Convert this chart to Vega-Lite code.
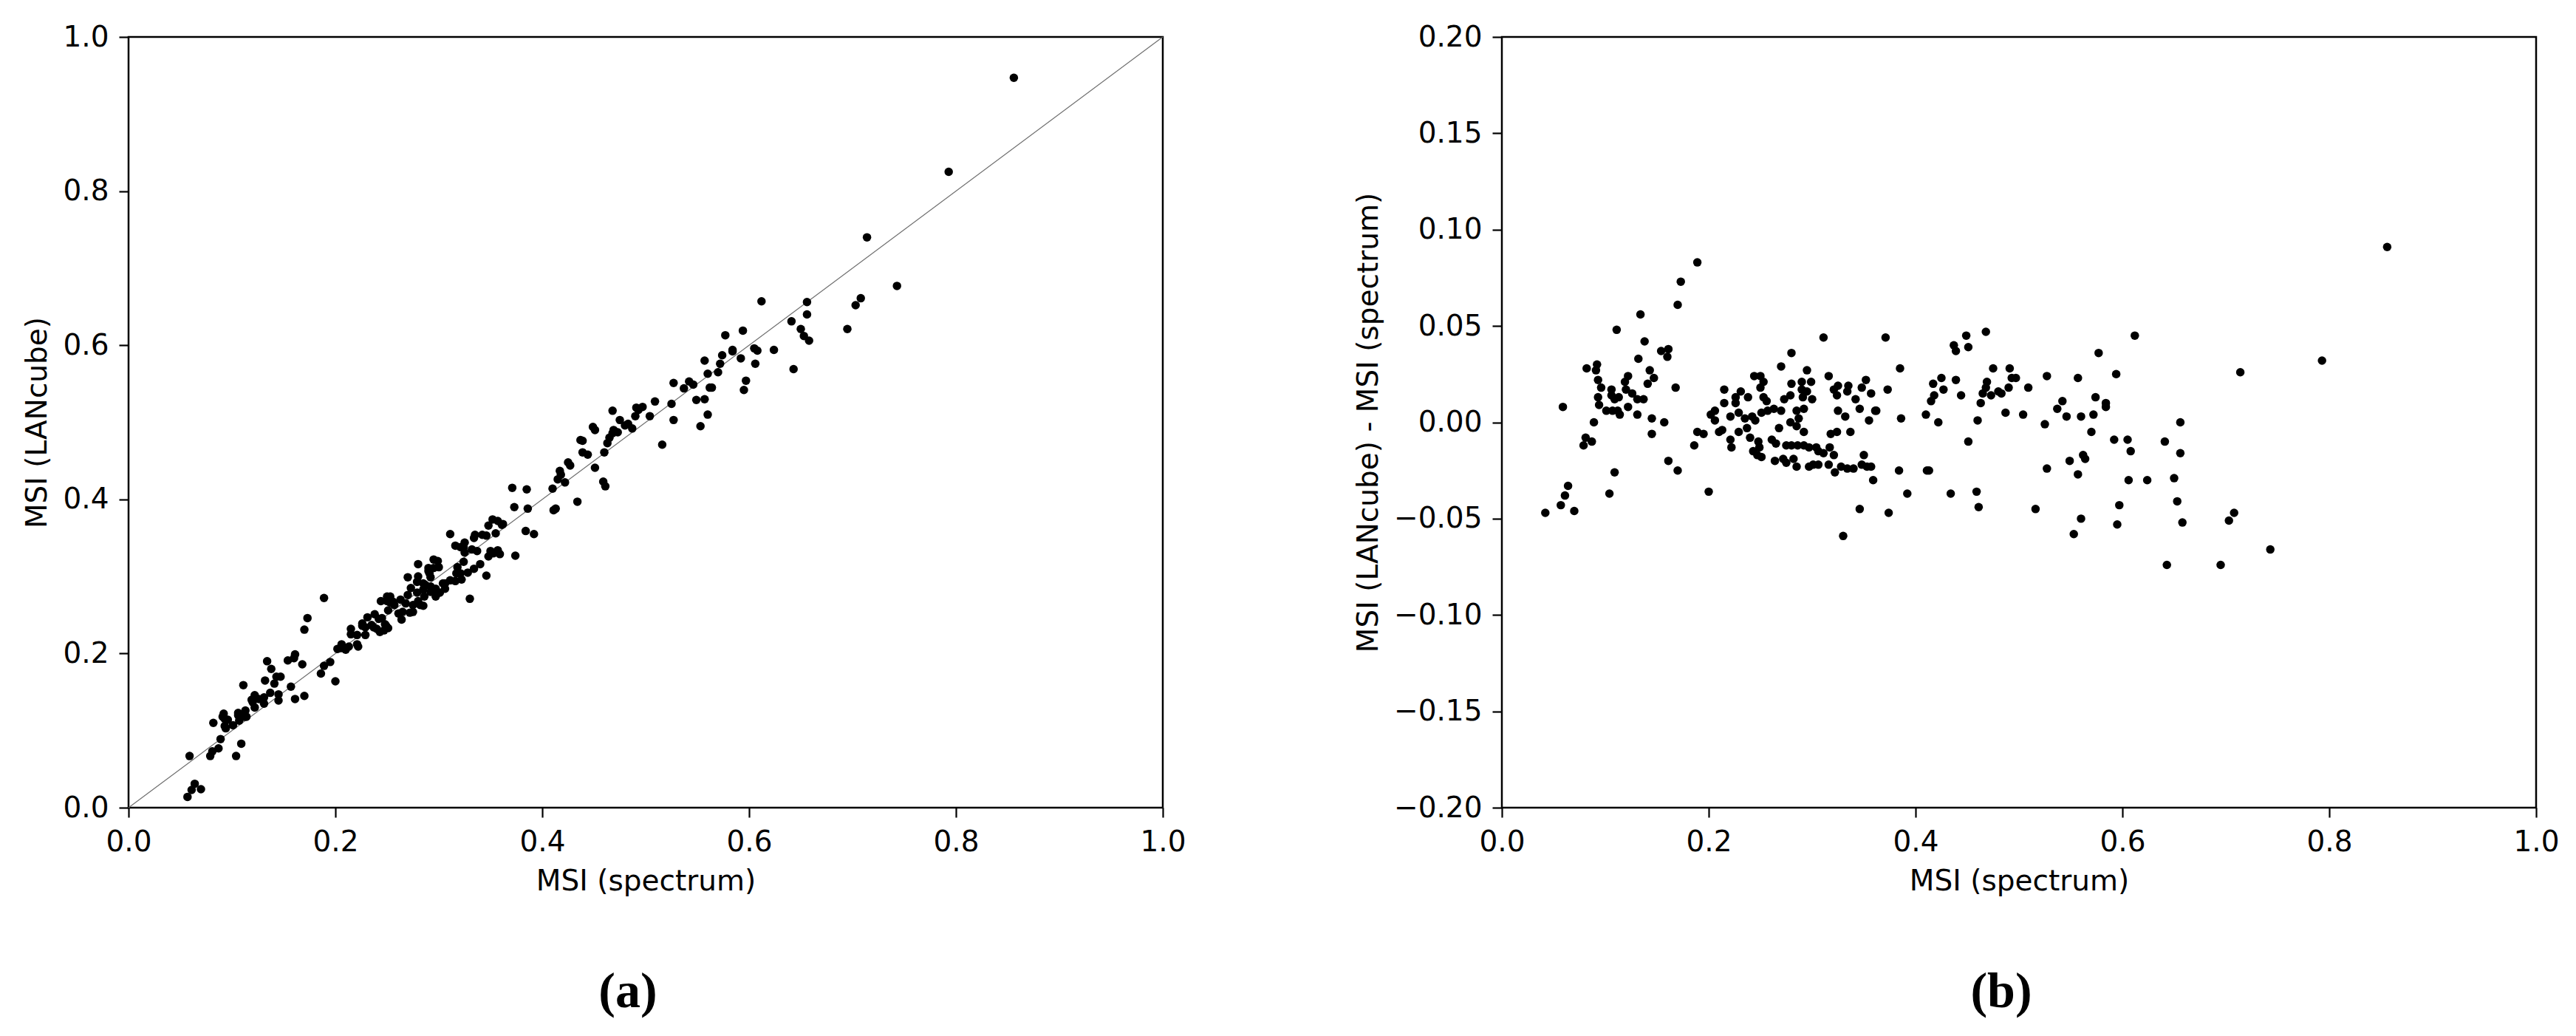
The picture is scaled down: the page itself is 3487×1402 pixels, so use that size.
{
  "$schema": "https://vega.github.io/schema/vega-lite/v6.json",
  "background": "white",
  "padding": {"left": 30, "top": 29, "right": 5, "bottom": 5},
  "spacing": 459,
  "bounds": "flush",
  "config": {
    "view": {"stroke": "black", "strokeWidth": 2.5},
    "axis": {
      "grid": false, "domain": false, "labelFlush": false,
      "tickColor": "black", "tickWidth": 2.2, "tickSize": 13,
      "labelFont": "DejaVu Sans", "labelFontSize": 39, "labelColor": "black", "labelPadding": 14,
      "titleFont": "DejaVu Sans", "titleFontSize": 39, "titleFontWeight": "normal", "titleColor": "black"
    }
  },
  "datasets": {
    "pts": [
      {"s":0.189,"d":0.083,"l":0.272},{"s":0.173,"d":0.073,"l":0.246},{"s":0.170,"d":0.061,"l":0.231},{"s":0.134,"d":0.056,"l":0.190},
      {"s":0.111,"d":0.048,"l":0.159},{"s":0.138,"d":0.042,"l":0.180},{"s":0.154,"d":0.037,"l":0.191},{"s":0.161,"d":0.038,"l":0.199},
      {"s":0.160,"d":0.034,"l":0.194},{"s":0.132,"d":0.033,"l":0.165},{"s":0.082,"d":0.028,"l":0.110},{"s":0.092,"d":0.030,"l":0.122},
      {"s":0.091,"d":0.027,"l":0.118},{"s":0.093,"d":0.022,"l":0.115},{"s":0.096,"d":0.018,"l":0.114},{"s":0.093,"d":0.013,"l":0.106},
      {"s":0.094,"d":0.009,"l":0.103},{"s":0.101,"d":0.006,"l":0.107},{"s":0.107,"d":0.006,"l":0.113},{"s":0.112,"d":0.006,"l":0.118},
      {"s":0.114,"d":0.004,"l":0.118},{"s":0.106,"d":0.017,"l":0.123},{"s":0.106,"d":0.014,"l":0.120},{"s":0.109,"d":0.012,"l":0.121},
      {"s":0.113,"d":0.013,"l":0.126},{"s":0.119,"d":0.021,"l":0.140},{"s":0.122,"d":0.024,"l":0.146},{"s":0.120,"d":0.017,"l":0.137},
      {"s":0.126,"d":0.015,"l":0.141},{"s":0.131,"d":0.012,"l":0.143},{"s":0.137,"d":0.012,"l":0.149},{"s":0.122,"d":0.008,"l":0.130},
      {"s":0.131,"d":0.004,"l":0.135},{"s":0.143,"d":0.027,"l":0.170},{"s":0.147,"d":0.023,"l":0.170},{"s":0.141,"d":0.020,"l":0.161},
      {"s":0.168,"d":0.018,"l":0.186},{"s":0.059,"d":0.008,"l":0.067},{"s":0.089,"d":0.000,"l":0.089},{"s":0.145,"d":0.002,"l":0.147},
      {"s":0.157,"d":0.000,"l":0.157},{"s":0.145,"d":-0.006,"l":0.139},{"s":0.081,"d":-0.008,"l":0.073},{"s":0.079,"d":-0.012,"l":0.067},
      {"s":0.087,"d":-0.010,"l":0.077},{"s":0.109,"d":-0.026,"l":0.083},{"s":0.104,"d":-0.037,"l":0.067},{"s":0.064,"d":-0.033,"l":0.031},
      {"s":0.061,"d":-0.038,"l":0.023},{"s":0.057,"d":-0.043,"l":0.014},{"s":0.042,"d":-0.047,"l":-0.005},{"s":0.070,"d":-0.046,"l":0.024},
      {"s":0.161,"d":-0.020,"l":0.141},{"s":0.170,"d":-0.025,"l":0.145},{"s":0.200,"d":-0.036,"l":0.164},{"s":0.186,"d":-0.012,"l":0.174},
      {"s":0.189,"d":-0.005,"l":0.184},{"s":0.195,"d":-0.006,"l":0.189},{"s":0.202,"d":0.004,"l":0.206},{"s":0.206,"d":0.006,"l":0.212},
      {"s":0.206,"d":0.001,"l":0.207},{"s":0.210,"d":-0.005,"l":0.205},
      {"s":0.213,"d":-0.004,"l":0.209},{"s":0.215,"d":0.017,"l":0.232},{"s":0.215,"d":0.010,"l":0.225},{"s":0.221,"d":0.003,"l":0.224},
      {"s":0.221,"d":-0.009,"l":0.212},{"s":0.222,"d":-0.013,"l":0.209},{"s":0.226,"d":0.013,"l":0.239},{"s":0.226,"d":0.010,"l":0.236},
      {"s":0.231,"d":0.016,"l":0.247},{"s":0.229,"d":0.005,"l":0.234},{"s":0.229,"d":-0.005,"l":0.224},{"s":0.235,"d":0.002,"l":0.237},
      {"s":0.237,"d":-0.003,"l":0.234},{"s":0.238,"d":0.013,"l":0.251},{"s":0.240,"d":-0.008,"l":0.232},{"s":0.244,"d":0.024,"l":0.268},
      {"s":0.242,"d":0.003,"l":0.245},{"s":0.243,"d":-0.015,"l":0.228},{"s":0.245,"d":0.001,"l":0.246},{"s":0.248,"d":-0.010,"l":0.238},
      {"s":0.249,"d":-0.013,"l":0.236},{"s":0.250,"d":0.024,"l":0.274},{"s":0.253,"d":0.021,"l":0.274},{"s":0.250,"d":0.018,"l":0.268},
      {"s":0.251,"d":-0.018,"l":0.233},{"s":0.247,"d":-0.017,"l":0.230},{"s":0.253,"d":0.013,"l":0.266},{"s":0.256,"d":0.011,"l":0.267},
      {"s":0.251,"d":0.005,"l":0.256},{"s":0.257,"d":0.006,"l":0.263},{"s":0.261,"d":-0.009,"l":0.252},{"s":0.265,"d":-0.011,"l":0.254},
      {"s":0.263,"d":0.007,"l":0.270},{"s":0.264,"d":-0.020,"l":0.244},{"s":0.268,"d":-0.003,"l":0.265},{"s":0.270,"d":0.029,"l":0.299},
      {"s":0.270,"d":0.006,"l":0.276},{"s":0.272,"d":-0.019,"l":0.253},{"s":0.275,"d":-0.021,"l":0.254},{"s":0.273,"d":0.012,"l":0.285},
      {"s":0.275,"d":-0.012,"l":0.263},{"s":0.279,"d":0.014,"l":0.293},{"s":0.279,"d":0.000,"l":0.279},{"s":0.280,"d":0.036,"l":0.316},
      {"s":0.280,"d":0.020,"l":0.300},{"s":0.280,"d":-0.012,"l":0.268},{"s":0.282,"d":-0.019,"l":0.263},{"s":0.285,"d":0.006,"l":0.291},
      {"s":0.285,"d":-0.002,"l":0.283},{"s":0.285,"d":-0.023,"l":0.262},{"s":0.286,"d":-0.012,"l":0.274},{"s":0.287,"d":0.002,"l":0.289},
      {"s":0.290,"d":0.021,"l":0.311},{"s":0.290,"d":0.017,"l":0.307},{"s":0.291,"d":0.013,"l":0.304},{"s":0.292,"d":0.007,"l":0.299},
      {"s":0.292,"d":-0.005,"l":0.287},{"s":0.292,"d":-0.012,"l":0.280},{"s":0.295,"d":0.027,"l":0.322},{"s":0.295,"d":0.016,"l":0.311},
      {"s":0.297,"d":-0.023,"l":0.274},{"s":0.299,"d":0.021,"l":0.320},{"s":0.300,"d":0.012,"l":0.312},{"s":0.297,"d":-0.013,"l":0.284},
      {"s":0.301,"d":-0.022,"l":0.279},{"s":0.304,"d":-0.013,"l":0.291},{"s":0.306,"d":-0.022,"l":0.284},{"s":0.306,"d":-0.015,"l":0.291},
      {"s":0.311,"d":0.044,"l":0.355},{"s":0.311,"d":-0.016,"l":0.295},{"s":0.316,"d":0.024,"l":0.340},{"s":0.317,"d":-0.013,"l":0.304},
      {"s":0.318,"d":-0.006,"l":0.312},{"s":0.316,"d":-0.022,"l":0.294},{"s":0.321,"d":0.017,"l":0.338},{"s":0.321,"d":-0.017,"l":0.304},
      {"s":0.322,"d":-0.026,"l":0.296},{"s":0.324,"d":-0.005,"l":0.319},{"s":0.325,"d":0.019,"l":0.344},{"s":0.324,"d":0.014,"l":0.338},
      {"s":0.325,"d":0.006,"l":0.331},{"s":0.328,"d":-0.023,"l":0.305},{"s":0.330,"d":-0.059,"l":0.271},{"s":0.332,"d":0.003,"l":0.335},
      {"s":0.334,"d":-0.024,"l":0.310},{"s":0.335,"d":0.019,"l":0.354},{"s":0.334,"d":0.016,"l":0.350},{"s":0.337,"d":-0.005,"l":0.333},
      {"s":0.340,"d":-0.024,"l":0.316},{"s":0.342,"d":0.012,"l":0.354},{"s":0.346,"d":0.007,"l":0.353},{"s":0.346,"d":-0.045,"l":0.301},
      {"s":0.348,"d":0.018,"l":0.366},{"s":0.348,"d":-0.022,"l":0.326},{"s":0.350,"d":-0.017,"l":0.333},{"s":0.352,"d":0.022,"l":0.374},
      {"s":0.353,"d":-0.023,"l":0.330},{"s":0.357,"d":0.015,"l":0.372},{"s":0.357,"d":-0.023,"l":0.334},{"s":0.355,"d":0.001,"l":0.356},
      {"s":0.359,"d":-0.030,"l":0.329},{"s":0.361,"d":0.006,"l":0.367},{"s":0.362,"d":0.006,"l":0.368},{"s":0.371,"d":0.044,"l":0.415},
      {"s":0.373,"d":0.017,"l":0.390},{"s":0.374,"d":-0.047,"l":0.327},{"s":0.384,"d":-0.025,"l":0.359},{"s":0.385,"d":0.028,"l":0.413},
      {"s":0.386,"d":0.002,"l":0.388},
      {"s":0.392,"d":-0.037,"l":0.355},{"s":0.410,"d":0.004,"l":0.414},{"s":0.415,"d":0.011,"l":0.426},{"s":0.418,"d":0.014,"l":0.432},
      {"s":0.417,"d":0.020,"l":0.437},{"s":0.425,"d":0.023,"l":0.448},{"s":0.427,"d":0.017,"l":0.444},{"s":0.422,"d":0.000,"l":0.422},
      {"s":0.411,"d":-0.025,"l":0.386},{"s":0.413,"d":-0.025,"l":0.388},{"s":0.434,"d":-0.037,"l":0.397},{"s":0.437,"d":0.040,"l":0.477},
      {"s":0.439,"d":0.037,"l":0.476},{"s":0.439,"d":0.022,"l":0.461},{"s":0.444,"d":0.014,"l":0.458},{"s":0.449,"d":0.045,"l":0.494},
      {"s":0.451,"d":0.039,"l":0.490},{"s":0.451,"d":-0.010,"l":0.441},{"s":0.459,"d":-0.036,"l":0.423},{"s":0.461,"d":-0.044,"l":0.417},
      {"s":0.460,"d":0.001,"l":0.461},{"s":0.463,"d":0.010,"l":0.473},{"s":0.465,"d":0.015,"l":0.480},{"s":0.468,"d":0.047,"l":0.515},
      {"s":0.469,"d":0.021,"l":0.490},{"s":0.468,"d":0.018,"l":0.486},{"s":0.473,"d":0.014,"l":0.487},{"s":0.475,"d":0.028,"l":0.503},
      {"s":0.480,"d":0.016,"l":0.496},{"s":0.483,"d":0.015,"l":0.498},{"s":0.487,"d":0.005,"l":0.492},{"s":0.490,"d":0.018,"l":0.508},
      {"s":0.491,"d":0.028,"l":0.519},{"s":0.493,"d":0.023,"l":0.516},{"s":0.497,"d":0.023,"l":0.520},{"s":0.504,"d":0.004,"l":0.508},
      {"s":0.509,"d":0.018,"l":0.527},{"s":0.516,"d":-0.045,"l":0.471},{"s":0.525,"d":-0.001,"l":0.524},{"s":0.527,"d":0.024,"l":0.551},
      {"s":0.527,"d":-0.024,"l":0.503},{"s":0.537,"d":0.007,"l":0.544},{"s":0.542,"d":0.011,"l":0.553},{"s":0.546,"d":0.003,"l":0.549},
      {"s":0.549,"d":-0.020,"l":0.529},{"s":0.553,"d":-0.058,"l":0.495},{"s":0.557,"d":0.023,"l":0.580},{"s":0.557,"d":-0.027,"l":0.530},
      {"s":0.560,"d":0.003,"l":0.563},{"s":0.560,"d":-0.050,"l":0.510},{"s":0.562,"d":-0.017,"l":0.545},{"s":0.564,"d":-0.019,"l":0.545},
      {"s":0.570,"d":-0.005,"l":0.565},{"s":0.572,"d":0.004,"l":0.576},{"s":0.574,"d":0.013,"l":0.587},{"s":0.577,"d":0.036,"l":0.613},
      {"s":0.584,"d":0.010,"l":0.594},{"s":0.584,"d":0.008,"l":0.592},{"s":0.592,"d":-0.009,"l":0.583},{"s":0.594,"d":0.025,"l":0.619},
      {"s":0.595,"d":-0.053,"l":0.542},{"s":0.597,"d":-0.043,"l":0.554},{"s":0.605,"d":-0.009,"l":0.596},{"s":0.608,"d":-0.015,"l":0.593},
      {"s":0.606,"d":-0.030,"l":0.576},{"s":0.612,"d":0.045,"l":0.657},{"s":0.624,"d":-0.030,"l":0.594},{"s":0.641,"d":-0.010,"l":0.631},
      {"s":0.643,"d":-0.074,"l":0.569},{"s":0.650,"d":-0.029,"l":0.621},{"s":0.653,"d":-0.041,"l":0.612},{"s":0.656,"d":0.000,"l":0.656},
      {"s":0.656,"d":-0.016,"l":0.640},{"s":0.658,"d":-0.052,"l":0.606},{"s":0.695,"d":-0.074,"l":0.621},{"s":0.703,"d":-0.051,"l":0.652},
      {"s":0.708,"d":-0.047,"l":0.661},{"s":0.714,"d":0.026,"l":0.740},{"s":0.743,"d":-0.066,"l":0.677},
      {"s":0.856,"d":0.091,"l":0.947},{"s":0.793,"d":0.032,"l":0.825}
    ],
    "diag": [{"x":0,"y":0},{"x":1,"y":1}]
  },
  "hconcat": [
    {
      "width": 1400, "height": 1043,
      "title": {"text": "(a)", "orient": "bottom", "anchor": "middle", "font": "Liberation Serif", "fontSize": 68, "fontWeight": "bold", "color": "black", "offset": 97, "dx": -24},
      "layer": [
        {
          "data": {"name": "diag"},
          "mark": {"type": "line", "color": "#6e6e6e", "strokeWidth": 1.2},
          "encoding": {
            "x": {"field": "x", "type": "quantitative", "scale": {"domain": [0, 1], "nice": false}},
            "y": {"field": "y", "type": "quantitative", "scale": {"domain": [0, 1], "nice": false}}
          }
        },
        {
          "data": {"name": "pts"},
          "mark": {"type": "circle", "color": "black", "size": 132, "opacity": 1, "clip": true},
          "encoding": {
            "x": {"field": "s", "type": "quantitative", "title": "MSI (spectrum)",
                  "scale": {"domain": [0, 1], "nice": false},
                  "axis": {"values": [0, 0.2, 0.4, 0.6, 0.8, 1.0], "format": ".1f", "titlePadding": 14}},
            "y": {"field": "l", "type": "quantitative", "title": "MSI (LANcube)",
                  "scale": {"domain": [0, 1], "nice": false},
                  "axis": {"values": [0, 0.2, 0.4, 0.6, 0.8, 1.0], "format": ".1f", "titlePadding": 14}}
          }
        }
      ]
    },
    {
      "width": 1400, "height": 1043,
      "title": {"text": "(b)", "orient": "bottom", "anchor": "middle", "font": "Liberation Serif", "fontSize": 68, "fontWeight": "bold", "color": "black", "offset": 97, "dx": -24},
      "layer": [
        {
          "data": {"name": "pts"},
          "mark": {"type": "circle", "color": "black", "size": 132, "opacity": 1, "clip": true},
          "encoding": {
            "x": {"field": "s", "type": "quantitative", "title": "MSI (spectrum)",
                  "scale": {"domain": [0, 1], "nice": false},
                  "axis": {"values": [0, 0.2, 0.4, 0.6, 0.8, 1.0], "format": ".1f", "titlePadding": 14}},
            "y": {"field": "d", "type": "quantitative", "title": "MSI (LANcube) - MSI (spectrum)",
                  "scale": {"domain": [-0.2, 0.2], "nice": false},
                  "axis": {"values": [-0.2, -0.15, -0.1, -0.05, 0, 0.05, 0.1, 0.15, 0.2], "format": ".2f", "titlePadding": 14}}
          }
        },
        {
          "mark": {"type": "rule", "color": "black", "strokeWidth": 1.6},
          "encoding": {"y": {"datum": 0}}
        }
      ]
    }
  ]
}
